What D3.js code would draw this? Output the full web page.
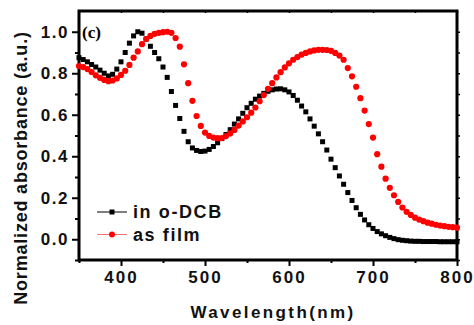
<!DOCTYPE html>
<html>
<head>
<meta charset="utf-8">
<script src="https://cdn.jsdelivr.net/npm/d3@7"></script>
<style>
body { margin: 0; background: #fff; }
svg { display: block; }
</style>
</head>
<body>
<svg width="474" height="325"></svg>
<script>
const width = 474, height = 325;

// data: wavelength (nm), sampled every 5 nm
const wavelengths = [350, 355, 360, 365, 370, 375, 380, 385, 390, 395,
  400, 405, 410, 415, 420, 425, 430, 435, 440, 445,
  450, 455, 460, 465, 470, 475, 480, 485, 490, 495,
  500, 505, 510, 515, 520, 525, 530, 535, 540, 545,
  550, 555, 560, 565, 570, 575, 580, 585, 590, 595,
  600, 605, 610, 615, 620, 625, 630, 635, 640, 645,
  650, 655, 660, 665, 670, 675, 680, 685, 690, 695,
  700, 705, 710, 715, 720, 725, 730, 735, 740, 745,
  750, 755, 760, 765, 770, 775, 780, 785, 790, 795, 800];

// in o-DCB (solution)
const solution = [0.875, 0.866, 0.855, 0.842, 0.83, 0.815, 0.8, 0.787, 0.795, 0.82,
  0.855, 0.9, 0.945, 0.98, 1.0, 0.993, 0.965, 0.93, 0.9, 0.87,
  0.83, 0.78, 0.712, 0.645, 0.582, 0.52, 0.47, 0.44, 0.428, 0.423,
  0.425, 0.433, 0.447, 0.465, 0.485, 0.505, 0.528, 0.555, 0.58, 0.607,
  0.634, 0.655, 0.675, 0.69, 0.703, 0.713, 0.72, 0.724, 0.725, 0.72,
  0.71, 0.693, 0.67, 0.642, 0.614, 0.58, 0.545, 0.508, 0.47, 0.43,
  0.386, 0.345, 0.305, 0.265, 0.225, 0.187, 0.152, 0.12, 0.093, 0.07,
  0.052, 0.037, 0.026, 0.017, 0.009, 0.003, -0.002, -0.005, -0.007, -0.009,
  -0.01, -0.01, -0.011, -0.011, -0.011, -0.011, -0.012, -0.012, -0.012, -0.012, -0.012];

// as film
const film = [0.835, 0.83, 0.82, 0.806, 0.79, 0.778, 0.768, 0.762, 0.765, 0.775,
  0.792, 0.812, 0.84, 0.875, 0.905, 0.94, 0.965, 0.98, 0.99, 0.995,
  0.998, 1.0, 0.995, 0.97, 0.928, 0.843, 0.752, 0.667, 0.594, 0.546,
  0.514, 0.498, 0.49, 0.487, 0.488, 0.497, 0.51, 0.527, 0.548, 0.568,
  0.588, 0.61, 0.635, 0.665, 0.695, 0.725, 0.752, 0.78, 0.805, 0.828,
  0.848, 0.865, 0.878, 0.89, 0.898, 0.905, 0.91, 0.913, 0.913, 0.912,
  0.908, 0.898, 0.885, 0.865, 0.825, 0.785, 0.735, 0.68, 0.62, 0.555,
  0.49, 0.41, 0.35, 0.292, 0.248, 0.212, 0.18, 0.153, 0.132, 0.117,
  0.104, 0.095, 0.087, 0.08, 0.075, 0.07, 0.066, 0.063, 0.06, 0.058, 0.056];

// ticks
const xTicks = [400, 500, 600, 700, 800];
const xMinor = [350, 450, 550, 650, 750];
const yTicks = [0.0, 0.2, 0.4, 0.6, 0.8, 1.0];
const yMinor = [-0.1, 0.1, 0.3, 0.5, 0.7, 0.9];
const yRight = [-0.1, 0.0, 0.1, 0.2, 0.3, 0.4, 0.5, 0.6, 0.7, 0.8, 0.9, 1.0];

const legendNames = ["in o-DCB", "as film"];

// plot area
let margin = {top: 11, right: 17, bottom: 65, left: 79};
let plotW = width - margin.left - margin.right,
    plotH = height - margin.top - margin.bottom;

const svg = d3.select('svg')

const x = d3.scaleLinear().domain([350, 800]).range([0, plotW]);
const y = d3.scaleLinear().domain([-0.1, 1.1]).range([plotH, 0]);

const g = svg.append("g")
    .attr("transform", `translate(${margin.left}, ${margin.top})`)

const labelFont = "'Liberation Sans', Arial, sans-serif";

// bottom axis
let xAxis = g.append("g")
    .attr("transform", `translate(0, ${plotH})`)
    .call(d3.axisBottom(x).tickValues(xTicks).tickSize(6).tickPadding(5).tickFormat(d3.format("d")))
xAxis.select(".domain").remove()
xAxis.selectAll("line").attr("stroke-width", 2)
xAxis.selectAll("text")
    .attr("font-size", "17px")
    .attr("font-weight", "bold")
    .attr("font-family", labelFont)
    .attr("letter-spacing", "2px")
    .attr("fill", "#111")

let xAxisMinor = g.append("g")
    .attr("transform", `translate(0, ${plotH})`)
    .call(d3.axisBottom(x).tickValues(xMinor).tickSize(3).tickFormat(""))
xAxisMinor.select(".domain").remove()
xAxisMinor.selectAll("line").attr("stroke-width", 2)

// top ticks (inward, small)
let xTop = g.append("g")
    .call(d3.axisTop(x).tickValues(xTicks.concat(xMinor)).tickSize(-2).tickFormat(""))
xTop.select(".domain").remove()
xTop.selectAll("line").attr("stroke-width", 1.5)

// left axis
let yAxis = g.append("g")
    .call(d3.axisLeft(y).tickValues(yTicks).tickSize(7).tickPadding(3).tickFormat(d3.format(".1f")))
yAxis.select(".domain").remove()
yAxis.selectAll("line").attr("stroke-width", 2)
yAxis.selectAll("text")
    .attr("font-size", "17px")
    .attr("font-weight", "bold")
    .attr("font-family", labelFont)
    .attr("letter-spacing", "1.5px")
    .attr("fill", "#111")

let yAxisMinor = g.append("g")
    .call(d3.axisLeft(y).tickValues(yMinor).tickSize(4).tickFormat(""))
yAxisMinor.select(".domain").remove()
yAxisMinor.selectAll("line").attr("stroke-width", 2)

// right ticks (outward, small)
let yRightAxis = g.append("g")
    .attr("transform", `translate(${plotW}, 0)`)
    .call(d3.axisRight(y).tickValues(yRight).tickSize(3).tickFormat(""))
yRightAxis.select(".domain").remove()
yRightAxis.selectAll("line").attr("stroke-width", 1.5)

// frame
g.append("rect")
    .attr("x", 0)
    .attr("y", 0)
    .attr("width", plotW)
    .attr("height", plotH)
    .attr("fill", "none")
    .attr("stroke", "#000")
    .attr("stroke-width", 3)

// series
const pts = wavelengths.map((w, i) => ({w: w, s: solution[i], f: film[i]}));

g.append("g").selectAll("rect")
    .data(pts)
    .join("rect")
    .attr("x", d => x(d.w) - 2.5)
    .attr("y", d => y(d.s) - 2.5)
    .attr("width", 5)
    .attr("height", 5)
    .attr("fill", "#000")

g.append("g").selectAll("circle")
    .data(pts)
    .join("circle")
    .attr("cx", d => x(d.w))
    .attr("cy", d => y(d.f))
    .attr("r", 3.1)
    .attr("fill", "#ff0000")

// panel label
g.append("text")
    .attr("x", 3)
    .attr("y", 27)
    .attr("font-size", "17px")
    .attr("font-weight", "bold")
    .attr("font-family", "'Liberation Serif', 'Times New Roman', serif")
    .text("(c)")

// legend
let legend = g.append("g")
    .attr("transform", `translate(18, 201)`)

legend.append("line")
    .attr("x1", 0).attr("x2", 30).attr("y1", 0).attr("y2", 0)
    .attr("stroke", "#000").attr("stroke-width", 1)
legend.append("rect")
    .attr("x", 12.5).attr("y", -2.5).attr("width", 5).attr("height", 5)
    .attr("fill", "#000")

legend.append("line")
    .attr("x1", 0).attr("x2", 30).attr("y1", 22.5).attr("y2", 22.5)
    .attr("stroke", "#ff7070").attr("stroke-width", 1)
legend.append("circle")
    .attr("cx", 15).attr("cy", 22.5).attr("r", 3)
    .attr("fill", "#ff0000")

legend.selectAll("text.lg")
    .data(legendNames)
    .join("text")
    .attr("class", "lg")
    .attr("x", 36)
    .attr("y", (d, i) => 6 + i * 22.5)
    .attr("font-size", "18px")
    .attr("font-weight", "bold")
    .attr("font-family", labelFont)
    .attr("letter-spacing", "1.6px")
    .attr("fill", "#111")
    .text(d => d)

// axis titles
svg.append("text")
    .attr("x", margin.left + x(600) - 16)
    .attr("y", 318)
    .attr("text-anchor", "middle")
    .attr("font-size", "17px")
    .attr("font-weight", "bold")
    .attr("font-family", labelFont)
    .attr("letter-spacing", "2.4px")
    .attr("fill", "#111")
    .text("Wavelength(nm)")

svg.append("text")
    .attr("transform", `translate(27, 168) rotate(-90)`)
    .attr("text-anchor", "middle")
    .attr("font-size", "18px")
    .attr("font-weight", "bold")
    .attr("font-family", labelFont)
    .attr("letter-spacing", "0.8px")
    .attr("fill", "#111")
    .text("Normalized absorbance (a.u.)")
</script>
</body>
</html>
